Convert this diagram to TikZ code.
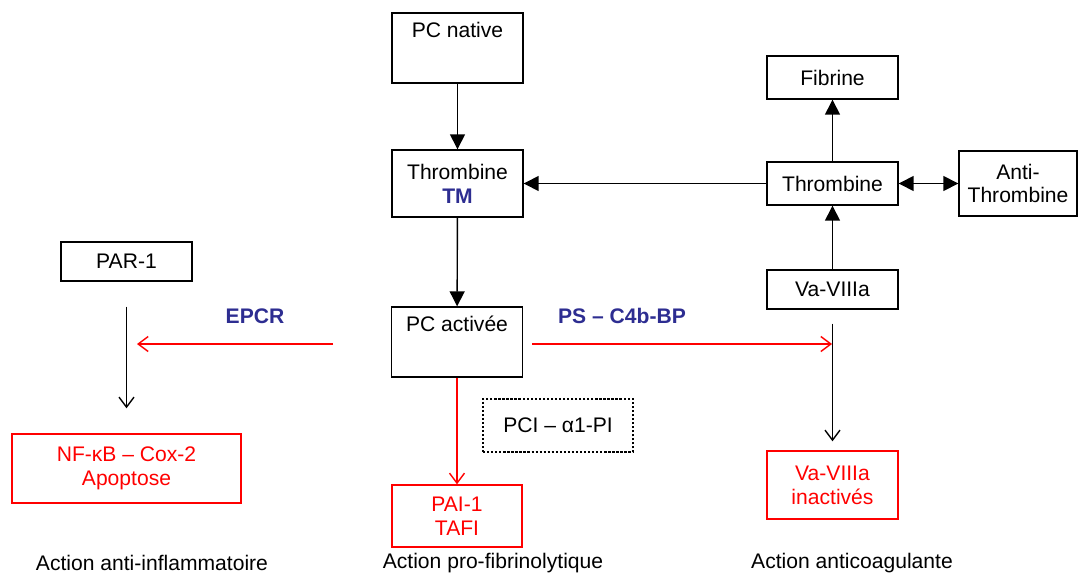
\documentclass[tikz,border=0pt]{standalone}
\usepackage{fontspec}
\setmainfont{Liberation Sans}
\usetikzlibrary{arrows.meta}
\definecolor{labblue}{RGB}{45,45,145}
\begin{document}
\begin{tikzpicture}[
        x=0.02cm, y=-0.02cm,
        line width=0.8pt,
        block/.style={draw=black, align=center, minimum width=2.62cm, inner sep=0pt, font=\fontsize{12}{13.6}\selectfont},
        redblock/.style={block, draw=red, text=red},
        label/.style={font=\fontsize{12}{13.6}\selectfont\bfseries, text=labblue},
        caption/.style={font=\fontsize{12}{13.6}\selectfont},
        fill tip/.style={-{Triangle[length=3mm, width=3mm]}},
        open tip/.style={-{Straight Barb[length=2mm, width=3mm]}}
      ]
        \useasboundingbox (0, 0) rectangle (1078, 575);

        \node (pcnat) at (457.5, 48)   [block, minimum height=1.4cm] {PC native\\[3pt]\strut};
        \node (thtm) at (457.5, 183.5) [block, minimum height=1.34cm] {Thrombine\\\textcolor{labblue}{\textbf{TM}}};
        \node (fib) at (832.5, 77.5)   [block, minimum height=0.86cm] {Fibrine};
        \node (thr) at (832.5, 183.5)  [block, minimum height=0.86cm] {Thrombine};
        \node (anti) at (1018, 183.5)  [block, minimum width=2.36cm, minimum height=1.3cm] {Anti-\\Thrombine};
        \node (va) at (832.5, 289.5)   [block, minimum height=0.78cm] {Va-VIIIa};
        \node (par) at (126.5, 261.5)  [block, minimum height=0.78cm] {PAR-1};
        \node (pcact) at (457, 342)    [block, minimum height=1.4cm] {PC activée\\[3pt]\strut};
        \node (pci) at (558, 425.5)    [block, densely dotted, line width=1.3pt, minimum width=3cm, minimum height=1.06cm] {PCI – α1-PI};
        \node (nfkb) at (126.5, 468.5) [redblock, minimum width=4.58cm, minimum height=1.38cm] {NF-κB – Cox-2\\Apoptose};
        \node (pai) at (457, 516)      [redblock, minimum width=2.6cm, minimum height=1.24cm] {PAI-1\\TAFI};
        \node (vain) at (832.5, 485)   [redblock, minimum height=1.36cm] {Va-VIIIa\\inactivés};

        \node (epcr) at (255, 316) [label] {EPCR};
        \node (psc4) at (622, 316) [label] {PS – C4b-BP};

        \node (act1) at (152, 563) [caption] {Action anti-inflammatoire};
        \node (act2) at (493, 563) [caption] {Action pro-fibrinolytique};
        \node (act3) at (852, 563) [caption] {Action anticoagulante};

        \coordinate (epcrS) at (333, 344);
        \coordinate (epcrE) at (137, 344);
        \coordinate (psS) at (532, 344);
        \coordinate (psE) at (832, 344);

        \draw [fill tip] (pcnat) -- (thtm);
        \draw [fill tip] (thtm) -- (pcact);
        \draw [fill tip] (thr) -- (thtm);
        \draw [fill tip] (thr) -- (fib);
        \draw [{Triangle[length=3mm, width=3mm]}-{Triangle[length=3mm, width=3mm]}] (thr) -- (anti);
        \draw [fill tip] (va) -- (thr);

        \draw [open tip, shorten <=0.5cm, shorten >=0.5cm] (par) -- (nfkb);
        \draw [open tip, shorten <=0.28cm, shorten >=0.18cm] (va) -- (vain);

        \draw [open tip, red] (epcrS) -- (epcrE);
        \draw [open tip, red] (psS) -- (psE);
        \draw [open tip, red] (pcact) -- (pai);
      \end{tikzpicture}
\end{document}
